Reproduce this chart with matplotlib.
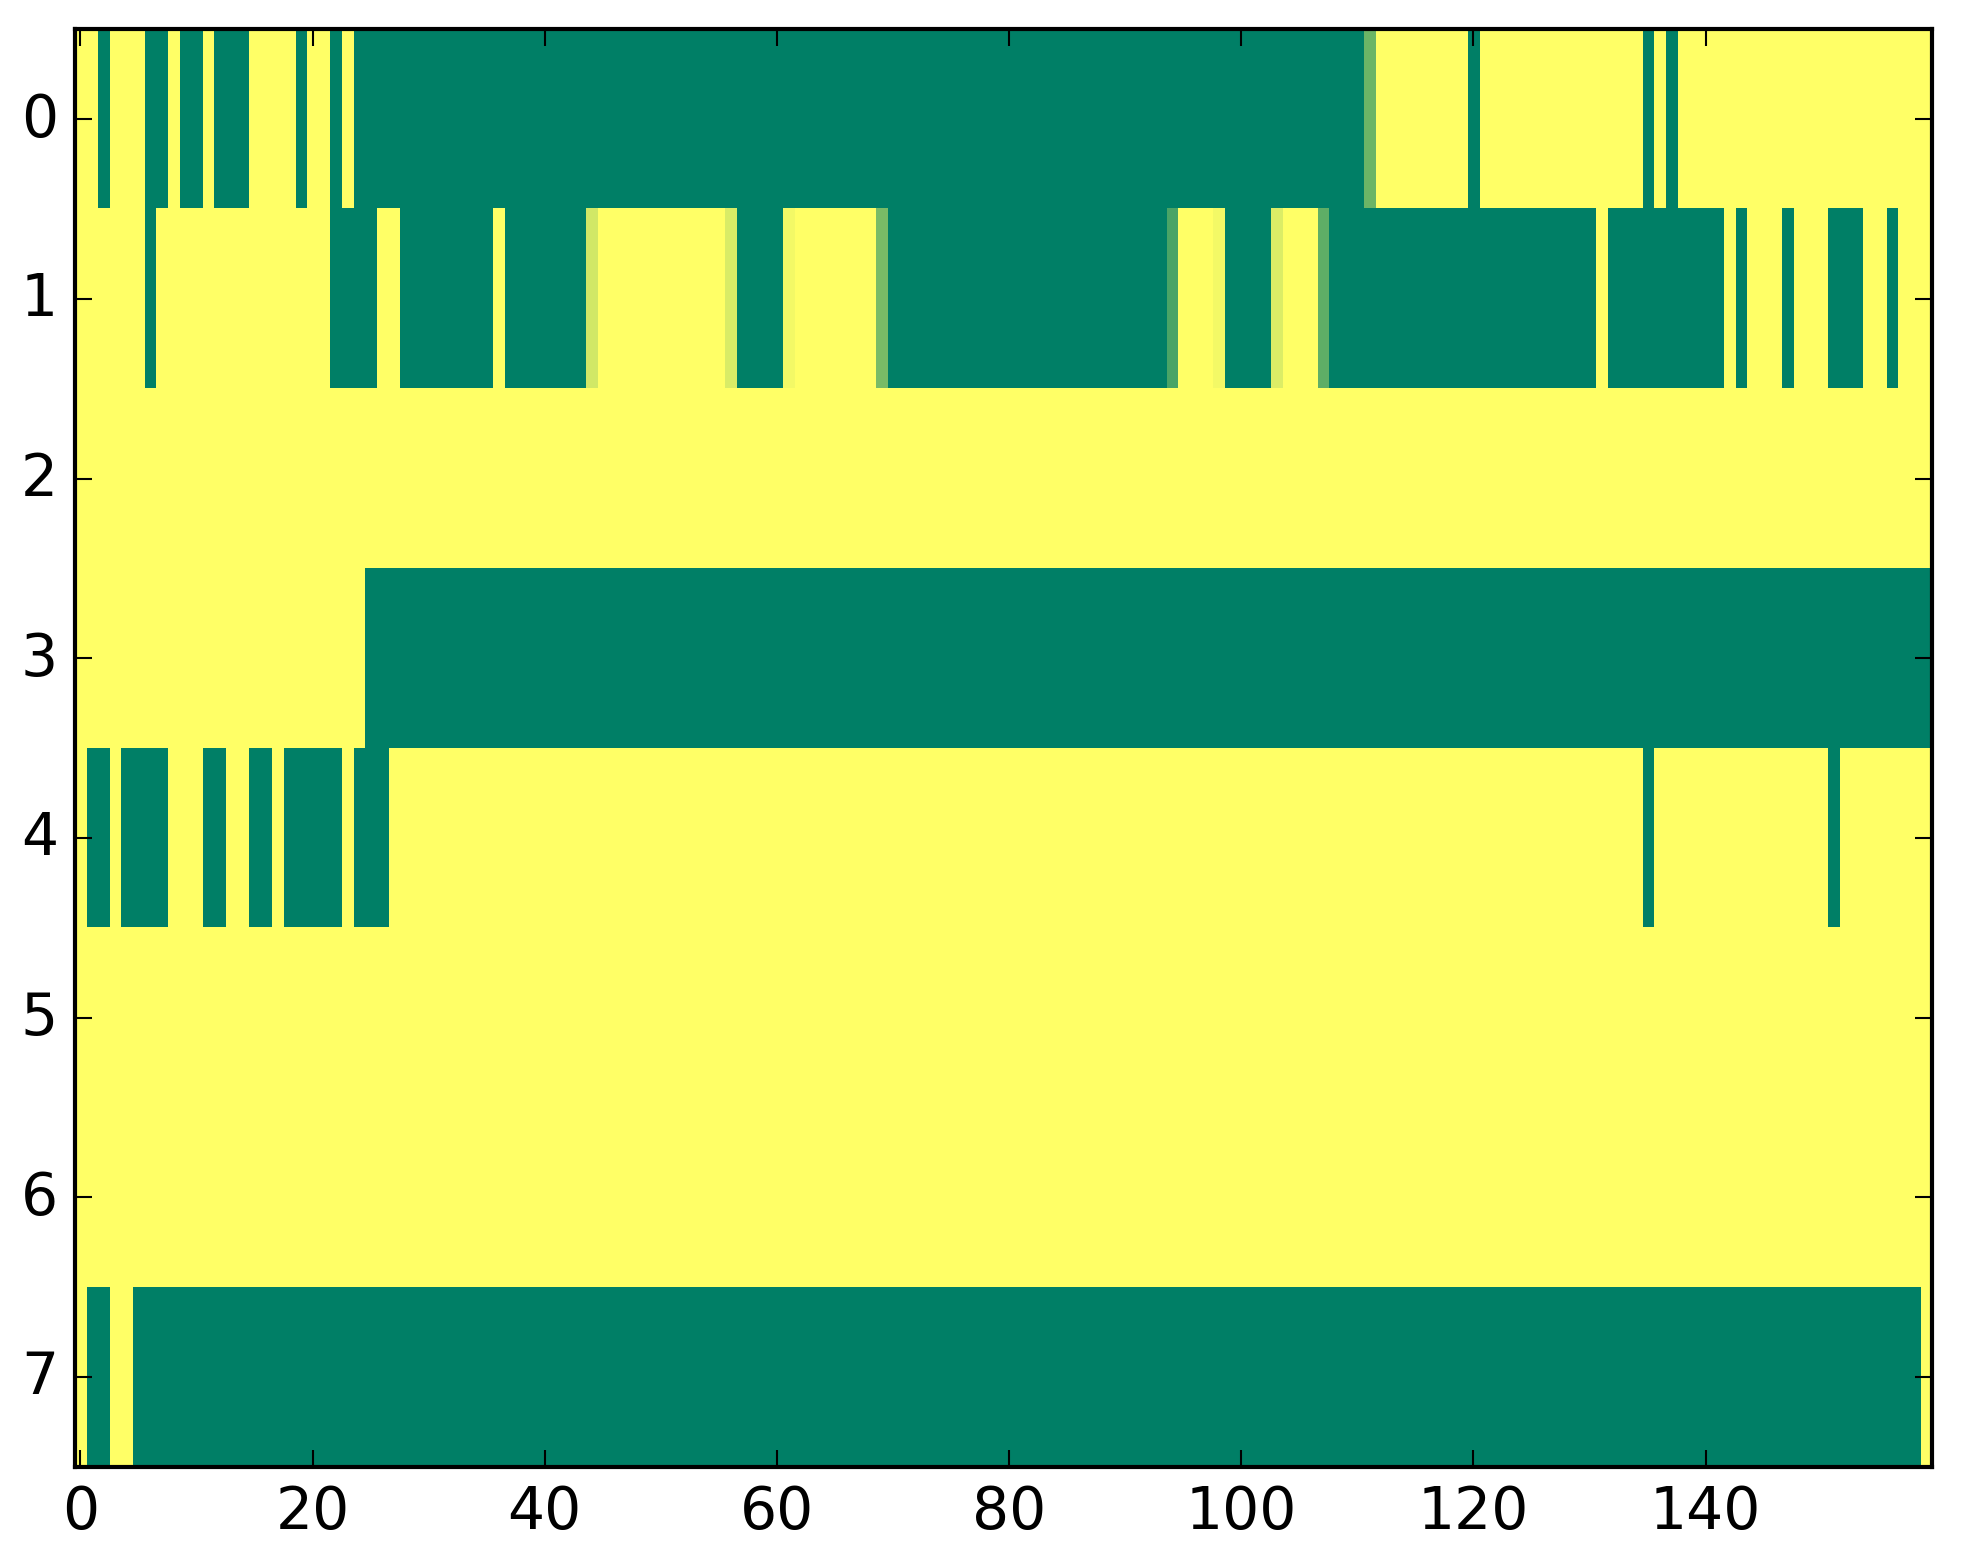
import numpy as np
import matplotlib
matplotlib.use("Agg")
import matplotlib.pyplot as plt

# Grid size: 8 rows x 160 columns
n_rows = 8
n_cols = 160

# Green cells (value 0) per row as inclusive column runs; everything else is yellow (value 1)
row0_green = [(2, 2), (6, 7), (9, 10), (12, 14), (19, 19), (22, 22), (24, 110),
              (120, 120), (135, 135), (137, 137)]
row1_green = [(6, 6), (22, 25), (28, 35), (37, 43), (57, 60), (70, 93), (99, 102),
              (108, 130), (132, 141), (143, 143), (147, 147), (151, 153), (156, 156)]
row2_green = []
row3_green = [(25, 159)]
row4_green = [(1, 2), (4, 7), (11, 12), (15, 16), (18, 22), (24, 26), (135, 135), (151, 151)]
row5_green = []
row6_green = []
row7_green = [(1, 2), (5, 158)]

# Cells with in-between values: (row, column, value)
partial_cells = [(0, 111, 0.42),
                 (1, 44, 0.82), (1, 56, 0.85), (1, 61, 0.95), (1, 69, 0.47),
                 (1, 94, 0.29), (1, 98, 0.95), (1, 103, 0.86), (1, 107, 0.37)]

rows_green = [row0_green, row1_green, row2_green, row3_green,
              row4_green, row5_green, row6_green, row7_green]

grid = np.ones((n_rows, n_cols))
for r, runs in enumerate(rows_green):
    for a, b in runs:
        grid[r, a:b + 1] = 0.0
for r, c, v in partial_cells:
    grid[r, c] = v

plt.style.use("classic")
fig = plt.figure(figsize=(1963 / 300, 1564 / 300), dpi=300, facecolor="white")
ax = fig.add_axes([0.038, 0.0615, 0.9462, 0.919])

ax.imshow(grid, cmap="summer", vmin=0, vmax=1, aspect="auto", interpolation="nearest")

ax.set_xticks(np.arange(0, 141, 20))
ax.set_yticks(np.arange(0, 8))
ax.tick_params(axis="both", which="major", labelsize=14)

fig.savefig("out.png", dpi=300, facecolor="white")
plt.close(fig)
